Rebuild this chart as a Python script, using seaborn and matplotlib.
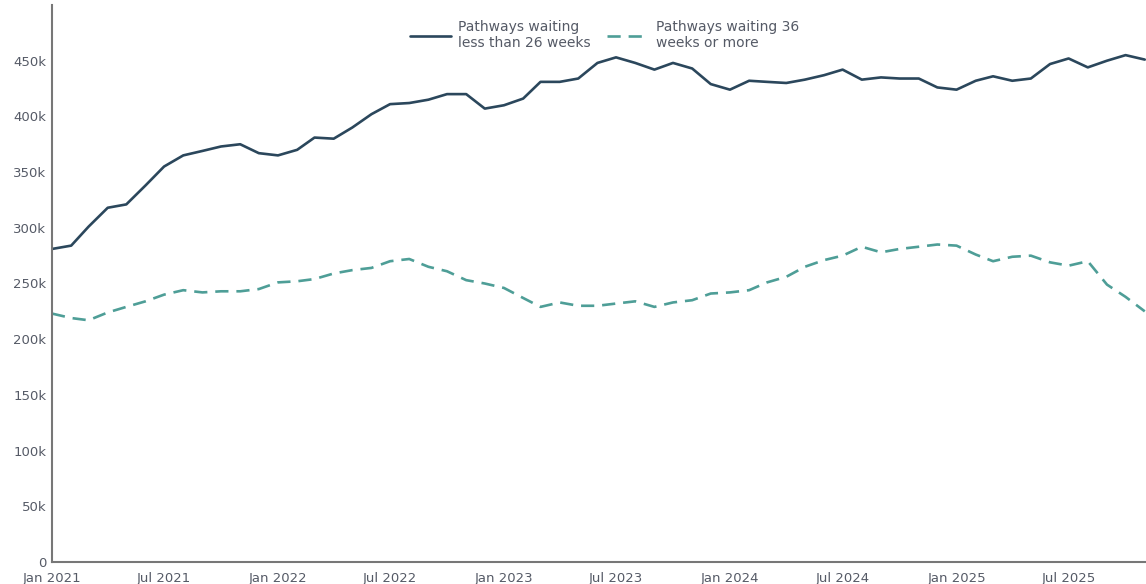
import matplotlib
matplotlib.use("Agg")
import matplotlib.pyplot as plt
import seaborn as sns
import pandas as pd
import numpy as np

months = pd.date_range("2021-01-01", "2025-11-01", freq="MS")

under_26 = [281, 284, 301, 318, 321, 338, 355, 365, 369, 373, 375, 367,
            365, 370, 381, 380, 390, 402, 411, 412, 415, 420, 420, 407,
            410, 416, 431, 431, 434, 448, 453, 448, 442, 448, 443, 429,
            424, 432, 431, 430, 433, 437, 442, 433, 435, 434, 434, 426,
            424, 432, 436, 432, 434, 447, 452, 444, 450, 455, 451]
over_36 = [223, 219, 217, 224, 229, 234, 240, 244, 242, 243, 243, 245,
           251, 252, 254, 259, 262, 264, 270, 272, 265, 261, 253, 250,
           246, 237, 229, 233, 230, 230, 232, 234, 229, 233, 235, 241,
           242, 244, 251, 256, 265, 271, 275, 283, 278, 281, 283, 285,
           284, 276, 270, 274, 275, 269, 266, 270, 249, 238, 225]

series_names = ["Pathways waiting\nless than 26 weeks", "Pathways waiting 36\nweeks or more"]

df = pd.concat([
    pd.DataFrame({"month": months, "value": np.array(under_26) * 1000, "series": series_names[0]}),
    pd.DataFrame({"month": months, "value": np.array(over_36) * 1000, "series": series_names[1]}),
])

sns.set_theme(style="white")
plt.rcParams["font.family"] = ["DejaVu Sans"]

fig = plt.figure(figsize=(11.46, 5.84), dpi=100)
ax = fig.add_axes([52 / 1146, 1 - 562 / 584, 1094 / 1146, 557 / 584])

palette = {series_names[0]: "#2b475c", series_names[1]: "#4e9e97"}
dashes = {series_names[0]: "", series_names[1]: (5, 3)}
sns.lineplot(data=df, x="month", y="value", hue="series", style="series",
             palette=palette, dashes=dashes, linewidth=1.9, ax=ax)

ax.set_ylim(0, 500000)
ax.set_xlim(months[0], months[-1] + pd.Timedelta(days=2))
ax.set_yticks(np.arange(0, 450001, 50000))
ax.set_yticklabels(["0"] + [f"{v}k" for v in range(50, 451, 50)])
xt = pd.date_range("2021-01-01", "2025-07-01", freq="6MS")
ax.set_xticks(xt)
ax.set_xticklabels([d.strftime("%b %Y") for d in xt])
ax.tick_params(axis="both", length=0, labelsize=9.5, labelcolor="#555a66")
ax.tick_params(axis="x", pad=7)
ax.tick_params(axis="y", pad=4)
ax.set_xlabel("")
ax.set_ylabel("")
for s in ["top", "right"]:
    ax.spines[s].set_visible(False)
for s in ["left", "bottom"]:
    ax.spines[s].set_color("#777777")
    ax.spines[s].set_linewidth(1.5)
ax.grid(False)

leg = ax.legend(loc="upper center", bbox_to_anchor=(0.505, 0.995), ncol=2, frameon=False,
                fontsize=10, handlelength=3.0, handletextpad=0.5, columnspacing=1.2)
for t in leg.get_texts():
    t.set_color("#555a66")

fig.savefig("out.png", dpi=100)
